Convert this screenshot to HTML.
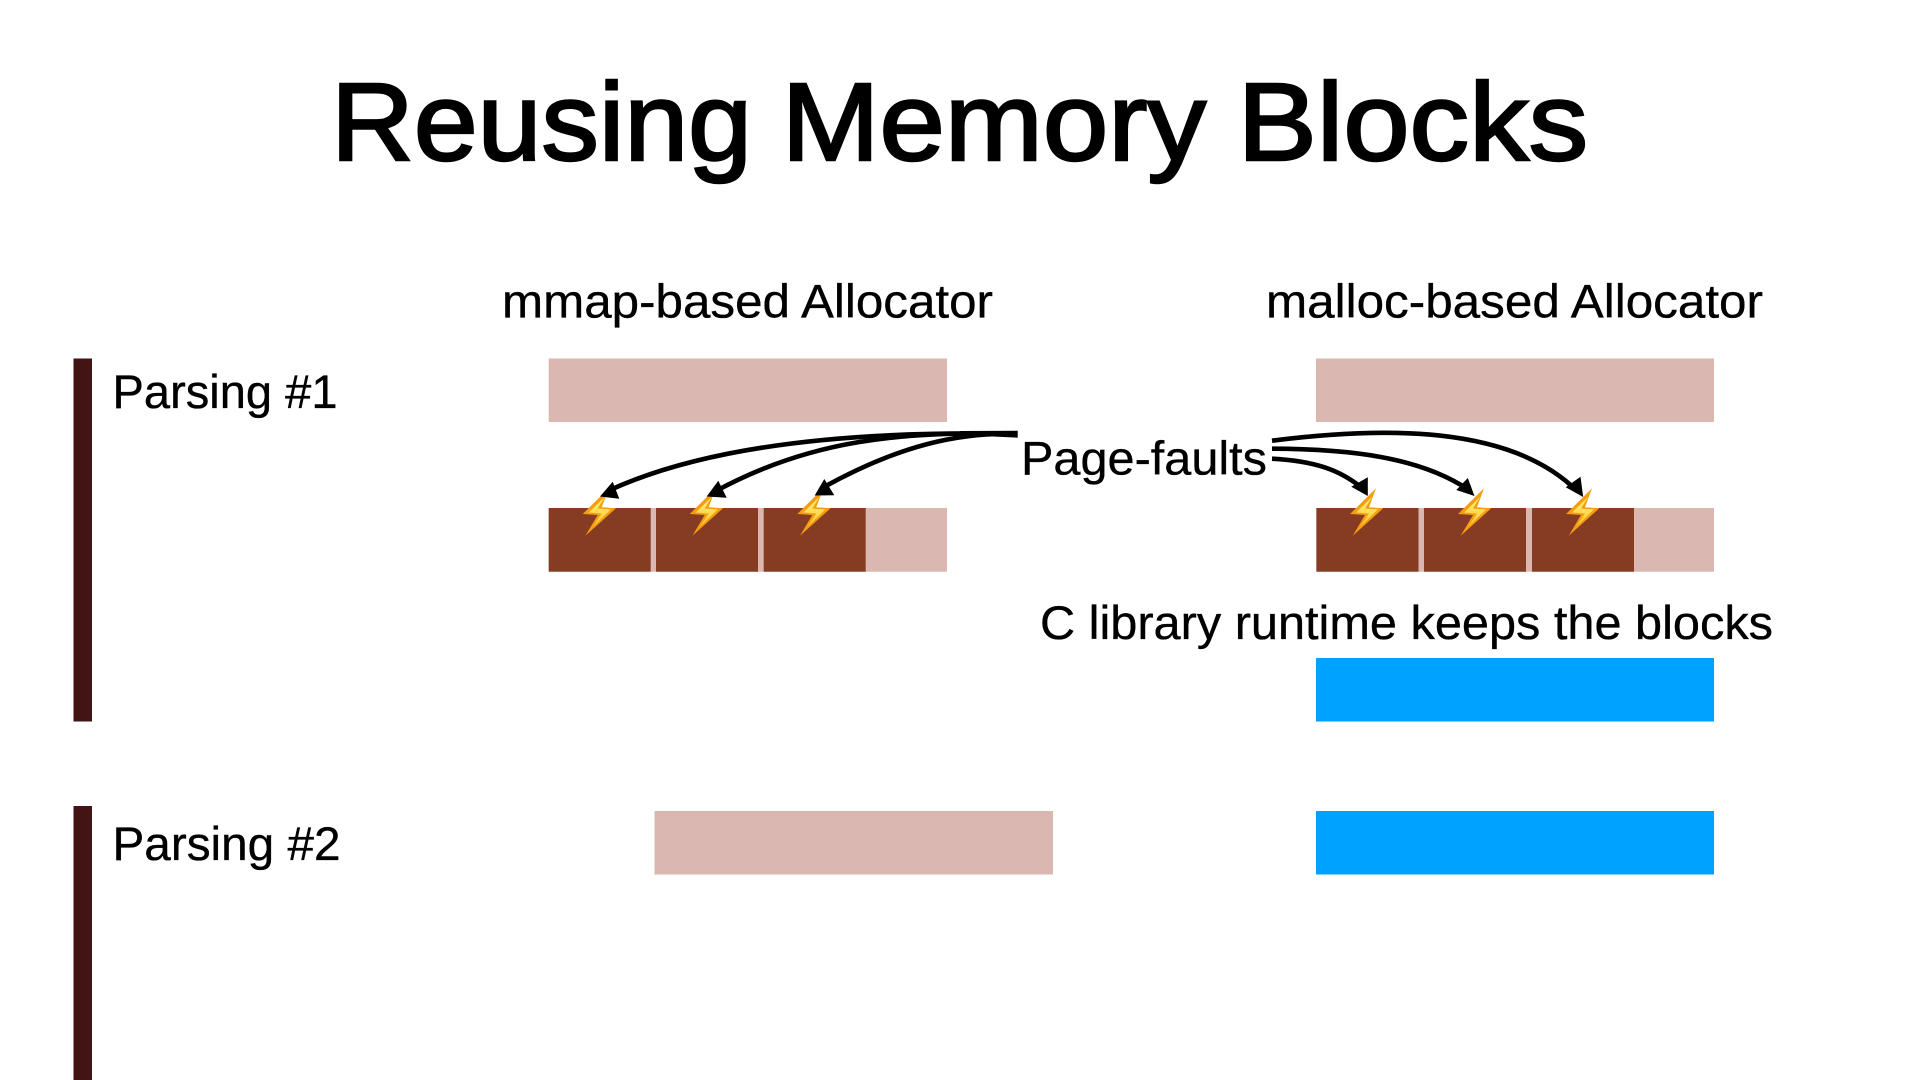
<!DOCTYPE html>
<html><head><meta charset="utf-8"><style>
html,body{margin:0;padding:0;background:#fff;width:1920px;height:1080px;overflow:hidden}
svg{display:block}
text{font-family:"Liberation Sans",sans-serif;fill:#000;stroke:#000;stroke-width:.35px}
.t{stroke-width:2.4px}
</style></head><body>
<svg width="1920" height="1080" viewBox="0 0 1920 1080" xmlns="http://www.w3.org/2000/svg">
<defs>
<linearGradient id="g" x1="0" y1="0" x2="0" y2="1"><stop offset="0" stop-color="#fff27a"/><stop offset="1" stop-color="#fdc72e"/></linearGradient>
<g id="bolt"><polygon points="1376,488.3 1350,514 1365,515 1352.7,535.7 1383.3,508.3 1369,507.3" fill="#f59d12"/><polygon points="1372,497 1356,512.5 1369,513.5 1360,527 1378,509.5 1365,508.5" fill="url(#g)"/></g>
</defs>
<rect width="1920" height="1080" fill="#fff"/>
<text class="t" x="331" y="160" font-size="110" textLength="421" lengthAdjust="spacingAndGlyphs">Reusing</text>
<text class="t" x="781.6" y="160" font-size="110" textLength="424.6" lengthAdjust="spacingAndGlyphs">Memory</text>
<text class="t" x="1237.5" y="160" font-size="110" textLength="350.6" lengthAdjust="spacingAndGlyphs">Blocks</text>
<text x="502" y="317.5" font-size="47" textLength="491" lengthAdjust="spacingAndGlyphs">mmap-based Allocator</text>
<text x="1266" y="317.5" font-size="47" textLength="497" lengthAdjust="spacingAndGlyphs">malloc-based Allocator</text>
<text x="112.5" y="408" font-size="47" textLength="225" lengthAdjust="spacingAndGlyphs">Parsing #1</text>
<text x="112.5" y="860" font-size="47" textLength="228" lengthAdjust="spacingAndGlyphs">Parsing #2</text>
<text x="1021" y="474.5" font-size="47" textLength="246" lengthAdjust="spacingAndGlyphs">Page-faults</text>
<text x="1040" y="639" font-size="47" textLength="733" lengthAdjust="spacingAndGlyphs">C library runtime keeps the blocks</text>

<rect x="73.5" y="358.5" width="18.5" height="363" fill="#431414"/>
<rect x="73.5" y="806" width="18.5" height="274" fill="#431414"/>

<rect x="548.7" y="358.5" width="398.3" height="63.5" fill="#dbb7b2"/>
<rect x="548.7" y="508" width="398.3" height="63.7" fill="#dbb7b2"/>
<rect x="548.7" y="508" width="102" height="63.7" fill="#863c22"/>
<rect x="656" y="508" width="102" height="63.7" fill="#863c22"/>
<rect x="763.7" y="508" width="102" height="63.7" fill="#863c22"/>

<rect x="1316" y="358.5" width="398" height="63.5" fill="#dbb7b2"/>
<rect x="1316" y="508" width="398" height="63.7" fill="#dbb7b2"/>
<rect x="1316.5" y="508" width="102" height="63.7" fill="#863c22"/>
<rect x="1424" y="508" width="102" height="63.7" fill="#863c22"/>
<rect x="1532" y="508" width="102" height="63.7" fill="#863c22"/>

<rect x="1316" y="658" width="398" height="63.5" fill="#00a2ff"/>
<rect x="1316" y="811" width="398" height="63.5" fill="#00a2ff"/>
<rect x="654.5" y="811" width="398.5" height="63.5" fill="#dbb7b2"/>

<use href="#bolt" x="-767.3"/><use href="#bolt" x="-660.3"/><use href="#bolt" x="-552.7"/>
<use href="#bolt"/><use href="#bolt" x="108"/><use href="#bolt" x="216"/>

<g fill="none" stroke="#000" stroke-width="4.6">
<path d="M1017 434 C880 431 720 440 610 490"/>
<path d="M1017 434 C900 431 810 440 716 491"/>
<path d="M1017 434 C960 432 900 445 824 487"/>
<path d="M1272 440.7 C1380 427 1510 424 1577 491"/>
<path d="M1272 448.7 C1350 449 1420 457 1469 490"/>
<path d="M1272 458.7 C1315 461 1340 470 1362 488"/>
</g>
<polygon points="960,431 1017.7,430.7 1017.7,437.7 960,435"/>
<polygon points="600,496.5 612.7,481.7 619.3,498.7"/>
<polygon points="706.7,496.5 718.3,480.7 726.7,497.7"/>
<polygon points="814.7,495.5 824.3,479 834.3,495.3"/>
<polygon points="1583.2,497 1580.5,476.7 1565.7,487.3"/>
<polygon points="1474.5,496 1467.8,478 1456.3,490"/>
<polygon points="1367.8,496 1367.8,477.3 1351.3,486.7"/>
</svg>
</body></html>
